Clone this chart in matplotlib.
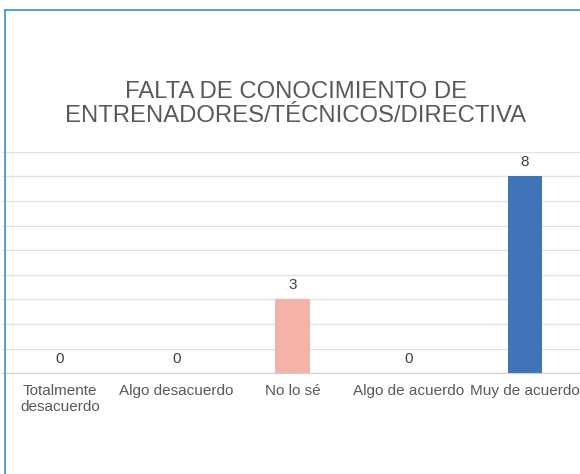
import matplotlib.pyplot as plt
from matplotlib.lines import Line2D

# Chart data
categories = ["Totalmente\ndesacuerdo", "Algo desacuerdo", "No lo sé",
              "Algo de acuerdo", "Muy de acuerdo"]
values = [0, 0, 3, 0, 8]
bar_colors = ["#c00000", "#f4a582", "#f4b3a9", "#92c5de", "#3f74b9"]
title = "FALTA DE CONOCIMIENTO DE\nENTRENADORES/TÉCNICOS/DIRECTIVA"

plt.rcParams['font.family'] = ['Liberation Sans', 'DejaVu Sans']

fig = plt.figure(figsize=(5.8, 4.74), dpi=100)
# plot area runs slightly past the right edge of the picture (cropped chart)
ax = fig.add_axes([2 / 580, 1 - 373.3 / 474, 1 - 2 / 580, (373.3 - 151.7) / 474])

x = list(range(len(categories)))
bars = ax.bar(x, values, width=0.30, color=bar_colors, zorder=3)

# data labels above each bar
for xi, v in zip(x, values):
    ax.annotate(str(v), (xi, v), xytext=(0, 5.5), textcoords="offset points",
                ha="center", va="bottom", fontsize=11, color="#404040")

ax.set_xlim(-0.5, 4.473)
ax.set_ylim(0, 9)
ax.set_yticks(range(0, 10))
ax.yaxis.grid(True, color="#e3e3e3", linewidth=1, zorder=0)
ax.set_yticklabels([])
ax.tick_params(axis="y", length=0)
ax.set_xticks(x)
ax.set_xticklabels(categories, fontsize=11, color="#595959", linespacing=1.1)
ax.tick_params(axis="x", length=0, pad=8)
for side in ["top", "right", "left"]:
    ax.spines[side].set_visible(False)
ax.spines["bottom"].set_color("#d0d0d0")

fig.text(0.51, 1 - 104 / 474, title, ha="center", va="center",
         fontsize=17.2, color="#595959", linespacing=1.17)

# blue frame on the left and top edge of the picture
fig.add_artist(Line2D([5 / 580, 5 / 580], [0, 1 - 10 / 474],
                      transform=fig.transFigure, color="#3b8fd4", linewidth=1.2))
fig.add_artist(Line2D([5 / 580, 1], [1 - 10 / 474, 1 - 10 / 474],
                      transform=fig.transFigure, color="#3b8fd4", linewidth=1.2))

fig.savefig("out.png", dpi=100)
